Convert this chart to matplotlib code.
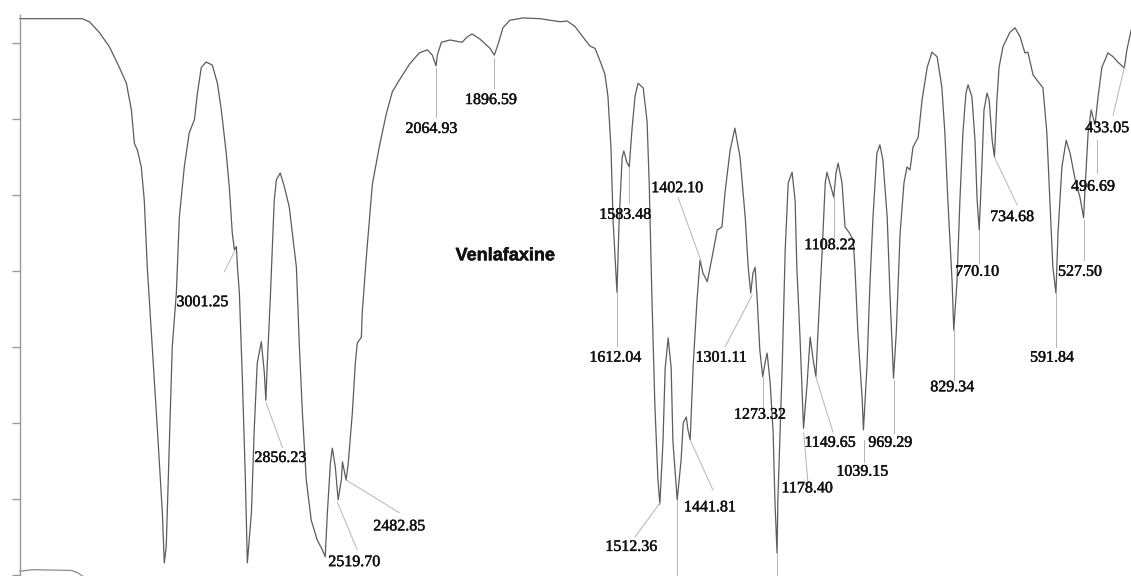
import numpy as np
import matplotlib
matplotlib.use("Agg")
import matplotlib.pyplot as plt
import matplotlib.patheffects as pe

# --------------------------------------------------------
# Données lues sur le spectre (nombre d'onde cm-1, %T)
# --------------------------------------------------------

wavenumber = [
    4000, 3862, 3709, 3676, 3630, 3583, 3537, 3504, 3481, 3467, 3453, 3435, 3421, 3407,
    3384, 3360, 3337, 3328, 3319, 3305, 3291, 3272, 3258, 3235, 3212, 3188, 3174, 3156,
    3133, 3105, 3081, 3063, 3040, 3026, 3012, 3002, 2993, 2988, 2979, 2965, 2951, 2942,
    2923, 2910, 2896, 2877, 2863, 2856, 2849, 2835, 2817, 2807, 2789, 2770, 2747, 2733,
    2714, 2700, 2686, 2668, 2645, 2617, 2593, 2580, 2570, 2556, 2547, 2533, 2520, 2505,
    2500, 2483, 2473, 2454, 2440, 2431, 2412, 2408, 2389, 2361, 2329, 2296, 2268, 2236,
    2189, 2143, 2105, 2082, 2065, 2059, 2040, 2000,
    1972, 1960, 1949, 1930, 1907, 1897, 1888, 1877, 1861, 1830, 1791, 1744, 1728, 1710,
    1691, 1675, 1663, 1651, 1640, 1633, 1626, 1621, 1612, 1607, 1600, 1596, 1589, 1583.5,
    1577, 1570, 1563, 1551, 1542, 1537, 1531, 1524, 1517, 1512.4, 1505, 1500, 1493, 1486,
    1482, 1472, 1463, 1458, 1451, 1447, 1441.8, 1435, 1426, 1419, 1412, 1402.1, 1391, 1379,
    1368, 1361, 1349, 1338, 1326, 1314, 1307, 1301.1, 1296, 1291, 1286, 1280, 1273.3, 1268,
    1263, 1256, 1249, 1245, 1240, 1238, 1228, 1221, 1214, 1205, 1198, 1194, 1187, 1181,
    1178.4, 1170, 1163, 1156, 1149.7, 1145, 1135, 1128, 1124, 1115, 1108.2, 1103, 1098,
    1089, 1082, 1073, 1063, 1059, 1052, 1042, 1039.2, 1031, 1024, 1017, 1008, 1001, 994,
    984, 977, 969.3, 963, 954, 945, 938, 931, 924, 912, 903, 891, 880, 868, 857, 850, 843,
    833, 829.3, 822, 815, 808, 801, 796, 787, 780, 775, 770.1, 764, 759, 752, 747, 740,
    734.7, 729, 724, 715, 699, 687, 675, 664, 657, 645, 633, 622, 613, 606, 599, 591.8,
    587, 578, 568, 559, 547, 536, 527.5, 524, 517, 510, 501, 494, 485, 471, 459, 448, 433,
    427, 417,
]

transmittance = [
    93.2, 93.2, 93.2, 92.8, 91.4, 89.5, 86.8, 84.7, 81.2, 76.8, 75.9, 73.7, 69.3, 60.5,
    50.0, 39.1, 28.2, 21.6, 23.7, 36.8, 50.0, 57.1, 67.1, 73.7, 78.2, 79.9, 83.4, 86.8,
    87.5, 87.1, 84.7, 81.2, 75.5, 71.1, 65.0, 62.8, 63.2, 60.5, 57.1, 45.7, 32.5, 21.6,
    28.2, 39.1, 47.9, 50.7, 46.6, 43.0, 47.9, 56.6, 69.3, 72.0, 72.9, 71.1, 68.4, 65.0,
    60.5, 50.0, 41.3, 32.5, 27.2, 24.6, 23.3, 22.4, 28.2, 34.7, 36.7, 34.2, 29.9, 32.5,
    34.9, 32.5, 34.7, 41.3, 47.9, 50.5, 51.3, 54.5, 61.8, 71.4, 76.3, 80.7, 83.6, 85.1,
    87.2, 88.7, 89.1, 88.4, 87.0, 88.4, 90.1, 90.4,
    90.1, 90.8, 91.2, 90.5, 89.3, 88.4, 89.9, 92.0, 93.0, 93.3, 93.2, 92.8, 92.9, 92.2,
    90.8, 89.6, 89.3, 87.6, 85.9, 83.0, 76.3, 66.6, 57.2, 66.6, 74.9, 75.8, 74.3, 73.7,
    78.7, 83.0, 84.7, 84.1, 79.7, 71.4, 57.0, 42.5, 32.8, 29.3, 37.6, 47.2, 51.2, 47.2,
    37.6, 29.9, 35.1, 40.0, 40.8, 39.1, 37.8, 47.4, 56.2, 61.4, 59.7, 58.6, 61.8, 65.4,
    65.8, 70.3, 75.9, 78.8, 75.0, 67.1, 60.5, 57.1, 59.7, 60.5, 56.2, 49.6, 46.1, 47.9,
    49.2, 45.3, 38.7, 29.9, 22.9, 29.9, 47.4, 62.8, 71.6, 73.0, 69.3, 60.5, 51.8, 43.0,
    39.3, 45.3, 51.3, 48.3, 46.1, 51.8, 62.8, 71.6, 73.0, 71.1, 69.7, 72.9, 74.2,
    71.6, 65.8, 65.1, 64.1, 60.5, 51.8, 43.0, 39.1, 47.4, 58.4, 67.1, 75.5, 76.6, 74.6,
    67.1, 56.2, 45.9, 51.8, 65.0, 71.6, 73.7, 73.3, 76.3, 77.6, 82.5, 86.8, 88.8, 88.2, 84.2, 78.2, 69.3,
    58.4, 52.2, 58.4, 69.3, 78.2, 83.4, 84.5, 82.9, 77.2, 69.3, 65.4, 73.7, 81.2, 83.4, 82.5, 77.2,
    75.0, 82.5, 86.8, 89.5, 91.4, 92.0, 90.8, 88.7, 88.8, 85.8, 84.9, 84.1, 78.2, 69.3, 60.5, 57.1,
    65.0, 73.7, 77.2, 75.5, 72.0, 69.7, 67.0, 71.1, 78.2, 81.2, 79.2, 82.9, 86.8, 88.7, 88.2, 87.5, 86.7,
    89.1, 91.7,
]

# début du spectre suivant (coin inférieur gauche)
next_wn = [4000, 3940, 3760, 3730, 3705]
next_t = [20.5, 20.7, 20.6, 20.3, 19.8]

# étiquettes des pics : texte, position (cm-1, %T)
peak_labels = ["3001.25", "2856.23", "2519.70", "2482.85", "2064.93", "1896.59",
               "1612.04", "1583.48", "1512.36", "1441.81", "1402.10", "1301.11",
               "1273.32", "1178.40", "1149.65", "1108.22", "1039.15", "969.29",
               "829.34", "770.10", "734.68", "591.84", "527.50", "496.69", "433.05"]
label_wn = [3151, 2789, 2445, 2236, 2087, 1905, 1616, 1593, 1579, 1396, 1472, 1370,
            1280, 1170, 1117, 1117, 1042, 977, 833, 775, 694, 601, 536, 506, 473]
label_t = [55.9, 35.4, 21.7, 26.4, 78.7, 82.5, 48.6, 67.4, 23.7, 28.9, 70.9, 48.6,
           41.1, 31.4, 37.4, 63.4, 33.6, 37.4, 44.7, 59.9, 67.1, 48.6, 59.9, 71.1, 78.8]

# traits de rappel : (cm-1 début, %T début, cm-1 fin, %T fin)
leader_wn0 = [3049, 2854, 2524, 2482, 2065, 1897, 1612, 1583.5, 1470, 1512, 1442, 1472,
              1298, 1273, 1240, 1178, 1150, 1108, 1039, 969, 829, 770, 735, 592, 527.5,
              497, 433]
leader_t0 = [59.9, 42.6, 29.6, 32.5, 86.7, 88.0, 57.2, 73.7, 69.7, 29.5, 37.8, 29.9,
             56.8, 46.1, 22.9, 38.7, 46.1, 69.7, 37.8, 45.7, 52.2, 65.4, 75.0, 57.1, 66.7,
             77.2, 86.8]
leader_wn1 = [2998, 2779, 2431, 2236, 2065, 1897, 1612, 1583.5, 1416, 1570, 1389, 1472,
              1361, 1273, 1240, 1168, 1110, 1108, 1039, 969, 829, 770, 682, 592, 527.5,
              497, 459]
leader_t1 = [62.8, 36.8, 23.3, 28.2, 80.3, 84.1, 50.1, 69.0, 61.2, 25.0, 31.2, 19.8,
             50.0, 42.1, 19.8, 32.1, 38.8, 64.5, 34.9, 38.7, 45.7, 61.0, 68.7, 50.0, 61.4,
             72.9, 80.5]


# --------------------------------------------------------
# Échelle : 4000-2000 cm-1 compressée d'un facteur 2
# --------------------------------------------------------

def forward(w):
    w = np.asarray(w, dtype=float)
    return np.where(w > 2000, 2000 + (w - 2000) / 2, w)


def inverse(u):
    u = np.asarray(u, dtype=float)
    return np.where(u > 2000, 2000 + 2 * (u - 2000), u)


fig = plt.figure(figsize=(11.31, 5.76), dpi=100)
ax = fig.add_axes([0, 0, 1, 1])
ax.set_xscale("function", functions=(forward, inverse))
ax.set_xlim(4091.6, 417.4)
ax.set_ylim(19.87, 95.66)

# Spectre
ax.plot(wavenumber, transmittance, color="#5c5c5c", lw=0.9)
ax.plot(next_wn, next_t, color="#8a8a8a", lw=0.9)

# Traits de rappel
for i in range(len(leader_wn0)):
    ax.plot([leader_wn0[i], leader_wn1[i]], [leader_t0[i], leader_t1[i]],
            color="#b5b5b5", lw=0.7)

# Étiquettes (léger contour pour imiter l'impression scannée)
ink = [pe.withStroke(linewidth=0.35, foreground="#111111")]
for i in range(len(peak_labels)):
    ax.text(label_wn[i], label_t[i], peak_labels[i], ha="center", va="center",
            fontsize=11.5, family=["Liberation Serif", "DejaVu Serif"], color="#111111",
            path_effects=ink)

ax.text(1872, 62.0, "Venlafaxine", ha="center", va="center", fontsize=13,
        fontweight="bold", family=["Liberation Sans", "DejaVu Sans"], color="#111111",
        path_effects=ink)

# Axe vertical
for side in ["top", "right", "bottom"]:
    ax.spines[side].set_visible(False)
ax.spines["left"].set_position(("data", 4000))
ax.spines["left"].set_bounds(19.87, 93.7)
ax.spines["left"].set_color("#9a9a9a")
ax.spines["left"].set_linewidth(1.0)
ax.set_yticks([20, 30, 40, 50, 60, 70, 80, 90])
ax.set_yticklabels([])
ax.tick_params(axis="y", direction="out", length=6, color="#9a9a9a", width=1.0)
ax.set_xticks([])

fig.savefig("out.png", dpi=100)
